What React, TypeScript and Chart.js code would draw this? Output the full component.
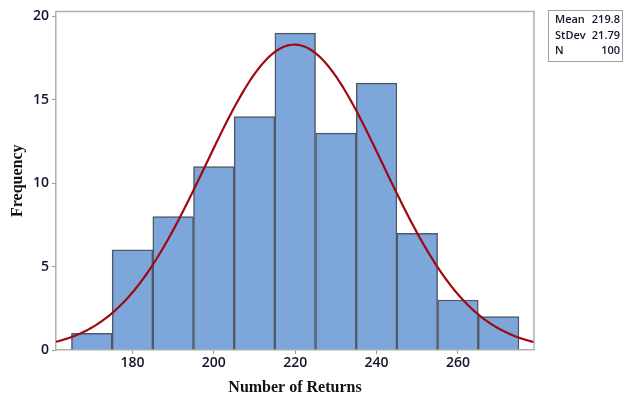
import React, { useEffect, useRef } from "react";
import { Chart, registerables } from "chart.js";

Chart.register(...registerables);

// Histogram bins (width 10) and their frequencies
const BIN_CENTERS = [170, 180, 190, 200, 210, 220, 230, 240, 250, 260, 270];
const FREQUENCIES = [1, 6, 8, 11, 14, 19, 13, 16, 7, 3, 2];
const BIN_WIDTH = 10;

// Summary statistics shown in the box and used for the fitted normal curve
const MEAN = 219.8;
const STDEV = 21.79;
const N = 100;

const X_TICKS = [180, 200, 220, 240, 260];
const Y_TICKS = [0, 5, 10, 15, 20];
const X_MIN = 161.2;
const X_MAX = 278.7;

const STAT_LABELS = ["Mean", "StDev", "N"];
const STAT_VALUES = [MEAN.toFixed(1), STDEV.toFixed(2), String(N)];

function fittedCurve() {
  const pts: { x: number; y: number }[] = [];
  const k = (N * BIN_WIDTH) / (STDEV * Math.sqrt(2 * Math.PI));
  for (let x = X_MIN; x <= X_MAX + 1e-9; x += 0.5) {
    const z = (x - MEAN) / STDEV;
    pts.push({ x, y: k * Math.exp(-0.5 * z * z) });
  }
  return pts;
}

// Gray frame around the plot area plus the statistics box at top right
const frameAndStats = {
  id: "frameAndStats",
  afterDraw(chart: Chart) {
    const ctx = chart.ctx;
    const a = chart.chartArea;
    ctx.save();
    ctx.strokeStyle = "#b0b0b0";
    ctx.lineWidth = 1.5;
    ctx.beginPath();
    ctx.moveTo(a.left, a.top);
    ctx.lineTo(a.right, a.top);
    ctx.lineTo(a.right, a.bottom);
    ctx.stroke();

    ctx.strokeStyle = "#a0a0a0";
    ctx.lineWidth = 1;
    ctx.strokeRect(548.5, 10.5, 74, 51);
    ctx.font = "600 11px 'Open Sans'";
    ctx.fillStyle = "#14142e";
    ctx.textBaseline = "middle";
    STAT_LABELS.forEach((lab, i) => {
      const y = 20 + i * 15.5;
      ctx.textAlign = "left";
      ctx.fillText(lab, 555, y);
      ctx.textAlign = "right";
      ctx.fillText(STAT_VALUES[i], 620, y);
    });
    ctx.restore();
  },
};

export default function App() {
  const ref = useRef<HTMLCanvasElement | null>(null);

  useEffect(() => {
    if (!ref.current) return;
    const chart = new Chart(ref.current, {
      type: "bar",
      data: {
        datasets: [
          {
            type: "bar",
            data: BIN_CENTERS.map((x, i) => ({ x, y: FREQUENCIES[i] })),
            backgroundColor: "#7da7da",
            borderColor: "#4f5864",
            borderWidth: 1.5,
            barPercentage: 1,
            categoryPercentage: 1,
            order: 2,
          },
          {
            type: "line",
            data: fittedCurve(),
            borderColor: "#9e0a14",
            borderWidth: 2.2,
            pointRadius: 0,
            tension: 0,
            fill: false,
            order: 1,
          },
        ] as any,
      },
      options: {
        responsive: false,
        animation: false,
        layout: { padding: { top: 10, right: 90, left: 0, bottom: 0 } },
        plugins: {
          legend: { display: false },
          tooltip: { enabled: false },
        },
        scales: {
          x: {
            type: "linear",
            min: X_MIN,
            max: X_MAX,
            offset: false,
            afterBuildTicks: (s: any) => {
              s.ticks = X_TICKS.map((v) => ({ value: v }));
            },
            afterFit: (s: any) => {
              s.height = 47;
            },
            border: { color: "#b0b0b0", width: 1.5 },
            grid: {
              display: true,
              drawOnChartArea: false,
              tickLength: 4,
              color: "#999",
              offset: false,
            },
            ticks: {
              color: "#14142e",
              font: { family: "'Open Sans'", size: 14, weight: "600" },
              padding: 1,
              maxRotation: 0,
            },
            title: {
              display: true,
              text: "Number of Returns",
              color: "#111",
              font: { family: "'Liberation Serif'", size: 16, weight: "bold" },
              padding: { top: 2, bottom: 0 },
            },
          },
          y: {
            min: 0,
            max: 20.3,
            afterBuildTicks: (s: any) => {
              s.ticks = Y_TICKS.map((v) => ({ value: v }));
            },
            afterFit: (s: any) => {
              s.width = 56;
            },
            border: { color: "#b0b0b0", width: 1.5 },
            grid: {
              display: true,
              drawOnChartArea: false,
              tickLength: 4,
              color: "#999",
            },
            ticks: {
              color: "#14142e",
              font: { family: "'Open Sans'", size: 14, weight: "600" },
              padding: 3,
            },
            title: {
              display: true,
              text: "Frequency",
              color: "#111",
              font: { family: "'Liberation Serif'", size: 16, weight: "bold" },
              padding: { top: 8, bottom: 0 },
            },
          },
        },
      },
      plugins: [frameAndStats],
    });
    return () => chart.destroy();
  }, []);

  return (
    <div style={{ position: "fixed", left: 0, top: 0, width: 624, height: 397, background: "#fff" }}>
      <canvas ref={ref} width={624} height={397} />
    </div>
  );
}
